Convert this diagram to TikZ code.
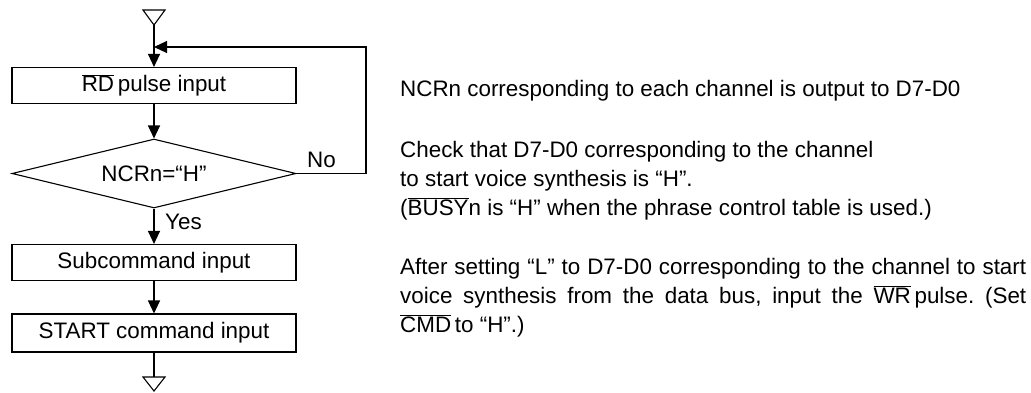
\documentclass[tikz,border=0pt]{standalone}
\usepackage{fontspec}
\setmainfont{Liberation Sans}
\usetikzlibrary{arrows.meta,shapes.geometric}
\newcommand{\olbar}[1]{$\overline{\mbox{#1}}$}
\frenchspacing
\begin{document}
\begin{tikzpicture}[x=1pt,y=-1pt,
  every node/.style={font=\fontsize{22.4}{29}\selectfont, inner sep=0pt},
  line/.style={line width=1.1pt},
  arr/.style={line, -{Triangle[length=13pt,width=12pt]}},
  flowbox/.style={draw, line, minimum width=284pt, minimum height=36pt},
  decision/.style={draw, line, diamond, aspect=4.1, minimum width=284pt, minimum height=69pt},
  note/.style={anchor=base west, align=left}]
\useasboundingbox (0,0) rectangle (1031,392);
% start / end terminals
\coordinate (ttop) at (154,25);
\draw[line] (143,10) -- (165,10) -- (ttop) -- cycle;
\coordinate (btop) at (154,377);
\draw[line] (143,377) -- (165,377) -- (154,391) -- cycle;
% boxes
\node[flowbox] (rd) at (154,85.5) {\olbar{RD}\,pulse input};
\node[decision] (dec) at (154,173.5) {NCRn=“H”};
\node[flowbox] (sub) at (154,262.5) {Subcommand input};
\node[flowbox, minimum height=38pt] (start) at (154,333) {START command input};
% connectors
\coordinate (merge) at (154,47);
\coordinate (loopc) at (366,173.5);
\draw[arr] (ttop) -- (rd.north);
\draw[arr] (loopc) |- (merge);
\draw[line] (dec.east) -- (loopc);
\draw[arr] (rd.south) -- (dec.north);
\draw[arr] (dec.south) -- (sub.north);
\draw[arr] (sub.south) -- (start.north);
\draw[line] (start.south) -- (btop);
% labels
\node[anchor=base west] (no) at (307,167) {No};
\node[anchor=base west] (yes) at (165,229) {Yes};
% notes (anchor = baseline of the last line)
\node[note] (n1) at (400,96) {NCRn corresponding to each channel is output to D7-D0};
\node[note] (n2) at (400,215) {Check that D7-D0 corresponding to the channel\\to start voice synthesis is “H”.\\(\olbar{BUSY}n is “H” when the phrase control table is used.)};
\node[note] (n3) at (400,332) {\makebox[626pt][s]{After setting “L” to D7-D0 corresponding to the channel to start}\\\makebox[626pt][s]{voice synthesis from the data bus, input the \olbar{WR}\,pulse. (Set}\\\olbar{CMD}\,to “H”.)};
\end{tikzpicture}
\end{document}
